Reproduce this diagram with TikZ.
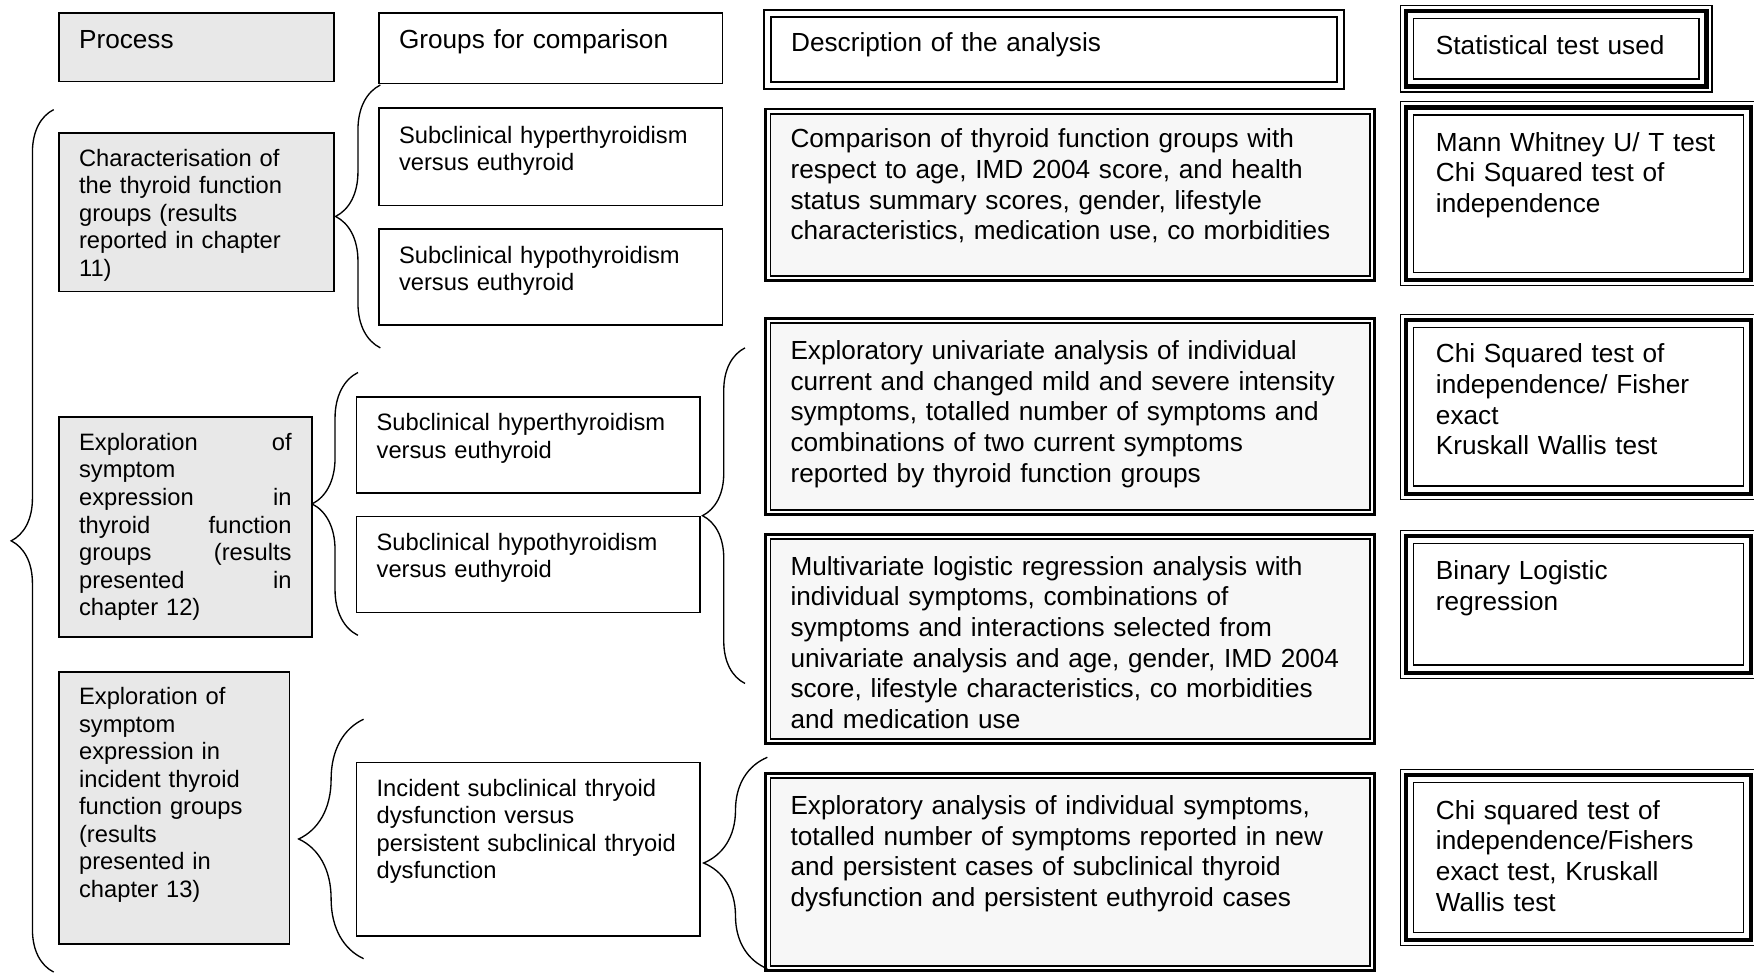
\documentclass[tikz,border=0pt]{standalone}
\usepackage{fontspec}
\setsansfont{Liberation Sans}
\usetikzlibrary{positioning, decorations.pathreplacing}
\definecolor{ProcGray}{RGB}{232,232,232}
\definecolor{DescGray}{RGB}{247,247,247}
\newcommand{\smalltxt}{\fontsize{10.6}{12.3}\selectfont}
\newcommand{\largetxt}{\fontsize{11.7}{13.7}\selectfont}
\hyphenpenalty=10000
\exhyphenpenalty=10000
% marcos dobles y triples
\newcommand{\descframe}[1]{%
  \draw[line width=1.25pt] ([shift={(-3.5,-3.5)}]#1.north west) rectangle ([shift={(3.5,3.5)}]#1.south east);}
\newcommand{\testframe}[1]{%
  \draw[line width=2pt] ([shift={(-6,-6)}]#1.north west) rectangle ([shift={(6,6)}]#1.south east);
  \draw[line width=0.6pt] ([shift={(-11,-11)}]#1.north west) rectangle ([shift={(11,11)}]#1.south east);}

\begin{document}
\begin{tikzpicture}[
    x=0.5pt, y=-0.5pt,
    font=\sffamily\smalltxt,
    base/.style={anchor=north west, draw, line width=0.7pt, align=left,
        inner ysep=0pt, inner xsep=9pt},
    procbox/.style={base, fill=ProcGray},
    groupbox/.style={base, fill=white, text width=135.5pt},
    descbox/.style={base, fill=DescGray, text width=250pt, font=\sffamily\largetxt},
    testbox/.style={base, fill=white, inner xsep=10pt, text width=127.5pt,
        font=\sffamily\largetxt},
    curly/.style={decorate, decoration={brace, amplitude=#1}, line width=0.6pt},
]
\useasboundingbox (0,0) rectangle (1568,870);

% cabeceras
\node[procbox, font=\sffamily\largetxt, text width=105pt, text height=16pt, text depth=14.5pt]
    (process) at (52,11) {Process};
\node[groupbox, font=\sffamily\largetxt, text height=16pt, text depth=15.5pt]
    (groups) at (338,11) {Groups for comparison};
\node[descbox, fill=white, text width=235pt, line width=1.25pt, text height=15.2pt, text depth=13.8pt]
    (analysis) at (688,14) {Description of the analysis};
\node[testbox, text width=107.5pt, text height=16pt, text depth=11pt]
    (test) at (1263,16) {Statistical test used};

% fila 1
\node[procbox, text width=105pt, text height=15pt, text depth=56pt] (charac) at (52,118)
    {Characterisation of\\the thyroid function\\groups (results\\reported in chapter\\11)};
\node[groupbox, text height=15.6pt, text depth=27.9pt] (hyper1) at (338,96)
    {Subclinical hyperthyroidism\\versus euthyroid};
\node[groupbox, text height=15.3pt, text depth=27.7pt] (hypo1) at (338,204)
    {Subclinical hypothyroidism\\versus euthyroid};
\node[descbox, text height=15.3pt, text depth=57.2pt] (compare) at (688,101)
    {Comparison of thyroid function groups with\\respect to age, IMD 2004 score, and health\\status summary scores, gender, lifestyle\\characteristics, medication use, co morbidities};
\node[testbox, text height=16.3pt, text depth=54.2pt] (mann) at (1263,102)
    {Mann Whitney U/ T test\\Chi Squared test of\\independence};

% fila 2
\node[procbox, text width=95pt, text height=15pt, text depth=83.5pt] (explore) at (52,372)
    {Exploration\hfill of\\symptom\\expression\hfill in\\thyroid\hfill function\\groups\hfill (results\\presented\hfill in\\chapter 12)};
\node[groupbox, text height=15.1pt, text depth=27.9pt] (hyper2) at (318,354)
    {Subclinical hyperthyroidism\\versus euthyroid};
\node[groupbox, text height=15.1pt, text depth=27.9pt] (hypo2) at (318,461)
    {Subclinical hypothyroidism\\versus euthyroid};
\node[descbox, text height=16.3pt, text depth=67.2pt] (univar) at (688,288)
    {Exploratory univariate analysis of individual\\current and changed mild and severe intensity\\symptoms, totalled number of symptoms and\\combinations of two current symptoms\\reported by thyroid function groups};
\node[testbox, text height=15.8pt, text depth=55.2pt] (chisq) at (1263,292)
    {Chi Squared test of\\independence/ Fisher\\exact\\Kruskall Wallis test};
\node[descbox, text height=16.3pt, text depth=73.2pt] (multivar) at (688,481)
    {Multivariate logistic regression analysis with\\individual symptoms, combinations of\\symptoms and interactions selected from\\univariate analysis and age, gender, IMD 2004\\score, lifestyle characteristics, co morbidities\\and medication use};
\node[testbox, text height=16.3pt, text depth=38.2pt] (binary) at (1263,485)
    {Binary Logistic\\regression};

% fila 3
\node[procbox, text width=85pt, text height=14.6pt, text depth=106.9pt] (incident) at (52,600)
    {Exploration of\\symptom\\expression in\\incident thyroid\\function groups\\(results\\presented in\\chapter 13)};
\node[groupbox, text height=15.1pt, text depth=62.4pt] (persist) at (318,681)
    {Incident subclinical thryoid\\dysfunction versus\\persistent subclinical thryoid\\dysfunction};
\node[descbox, text height=16.3pt, text depth=67.7pt] (newcases) at (688,695)
    {Exploratory analysis of individual symptoms,\\totalled number of symptoms reported in new\\and persistent cases of subclinical thyroid\\dysfunction and persistent euthyroid cases};
\node[testbox, text height=16.3pt, text depth=50.7pt] (chisq2) at (1263,699)
    {Chi squared test of\\independence/Fishers\\exact test, Kruskall\\Wallis test};

% bordes
\draw[line width=0.6pt] ([shift={(-5,-5)}]analysis.north west) rectangle ([shift={(5,5)}]analysis.south east);
\descframe{compare}
\descframe{univar}
\descframe{multivar}
\descframe{newcases}
\testframe{test}
\testframe{mann}
\testframe{chisq}
\testframe{binary}
\testframe{chisq2}

% llaves
\coordinate (b0top) at (48,98);   \coordinate (b0bot) at (48,869);
\coordinate (b1top) at (340,76);  \coordinate (b1bot) at (340,311);
\coordinate (b2top) at (320,333); \coordinate (b2bot) at (320,568);
\coordinate (b3top) at (666,311); \coordinate (b3bot) at (666,611);
\coordinate (b4top) at (325,643); \coordinate (b4bot) at (325,857);
\coordinate (b5top) at (686,677); \coordinate (b5bot) at (686,866);
\draw[curly=19pt] (b0bot) -- (b0top);
\draw[curly=20pt] (b1bot) -- (b1top);
\draw[curly=20.5pt] (b2bot) -- (b2top);
\draw[curly=19pt] (b3bot) -- (b3top);
\draw[curly=29pt] (b4bot) -- (b4top);
\draw[curly=28.5pt] (b5bot) -- (b5top);

\end{tikzpicture}
\end{document}
